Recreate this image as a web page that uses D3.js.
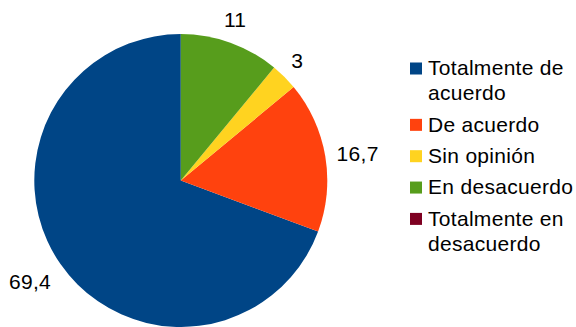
<!DOCTYPE html>
<html><head><meta charset="utf-8">
<script src="https://cdn.jsdelivr.net/npm/d3@7"></script>
<style>body{margin:0;background:#fff}svg{display:block}text{font-family:"Liberation Sans",Arial,sans-serif;fill:#000;letter-spacing:0.3px}</style>
</head><body><svg id="c" width="576" height="327"></svg>
<script>
const categories = ["Totalmente de acuerdo","De acuerdo","Sin opinión","En desacuerdo","Totalmente en desacuerdo"];
const legendLines = [["Totalmente de","acuerdo"],["De acuerdo"],["Sin opinión"],["En desacuerdo"],["Totalmente en","desacuerdo"]];
const values = [69.4, 16.7, 3, 11, 0];
const valueLabels = ["69,4","16,7","3","11",""];
const colors = ["#004586","#ff420e","#ffd320","#579d1c","#7e0021"];

const svg = d3.select("#c");
const cx = 180.8, cy = 180.5, r = 146.5;
const data = categories.map((c,i)=>({cat:c, v:values[i], lab:valueLabels[i], col:colors[i]}));
const pie = d3.pie().sort(null).value(d=>d.v).startAngle(0).endAngle(-2*Math.PI);
const arcs = pie(data);
const arc = d3.arc().innerRadius(0).outerRadius(r);
const g = svg.append("g").attr("transform",`translate(${cx},${cy})`);
g.selectAll("path").data(arcs.filter(a=>a.data.v>0)).join("path").attr("d",arc).attr("fill",d=>d.data.col);

const R = 158;
arcs.filter(a=>a.data.v>0).forEach(a=>{
  const m = (a.startAngle+a.endAngle)/2;
  const s = Math.sin(m), c = Math.cos(m);
  const px = R*s, py = -R*c;
  const t = g.append("text").attr("font-size",21).attr("text-anchor","middle").text(a.data.lab);
  const w = t.node().getComputedTextLength();
  const gx = Math.sign(s)*Math.max(0,Math.min(1,(Math.abs(s)-0.3)/0.5));
  t.attr("x", px + w/2*gx).attr("y", py + 9.85 - 15.4*c);
});

const lg = svg.append("g");
let y = 75.3;
const lineH = 25, gap = 31.35;
legendLines.forEach((lines,i)=>{
  lg.append("rect").attr("x",410).attr("y",y-12.8).attr("width",12).attr("height",12).attr("fill",colors[i]);
  lines.forEach((ln,j)=>{
    lg.append("text").attr("x",428).attr("y",y+j*lineH).attr("font-size",21).text(ln);
  });
  y += (lines.length-1)*lineH + gap;
});
</script></body></html>
